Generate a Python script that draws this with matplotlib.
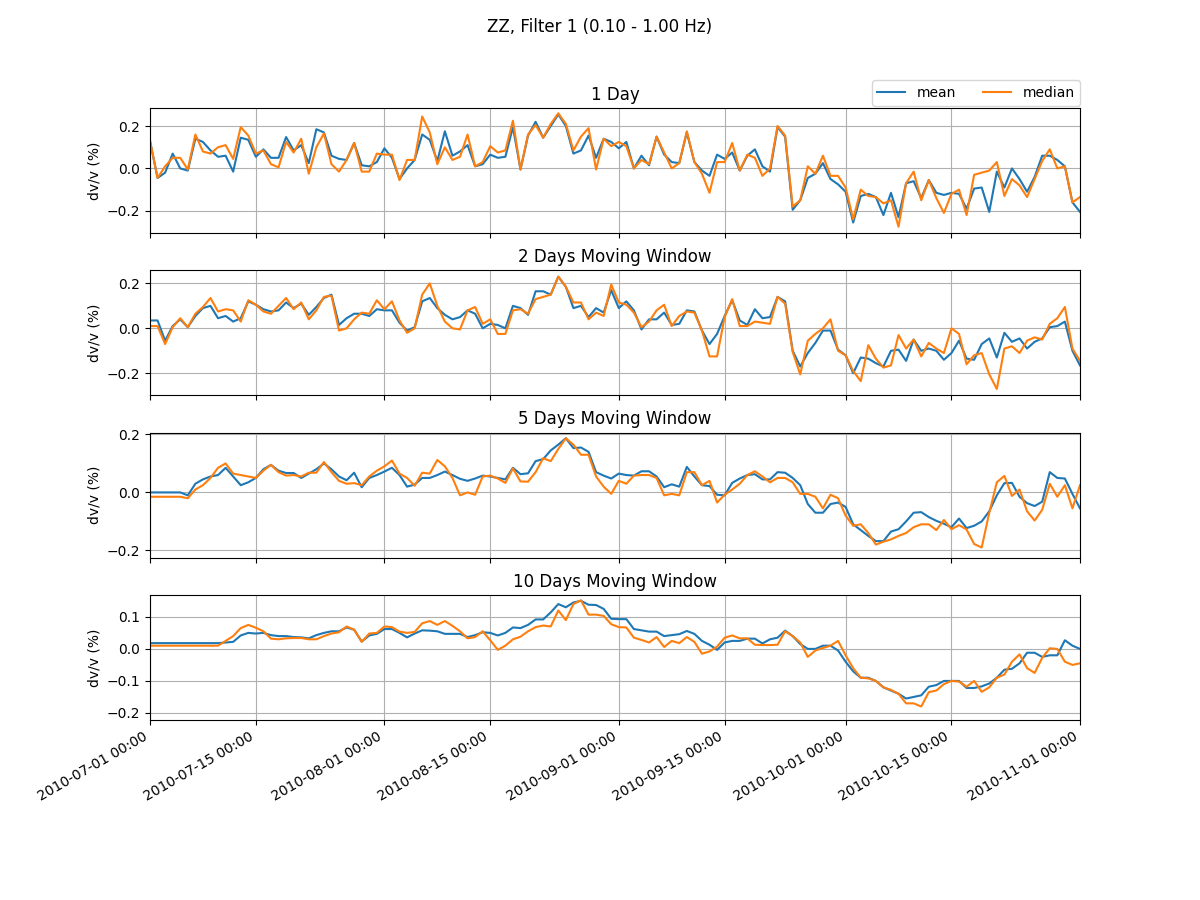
import matplotlib
matplotlib.use("Agg")
import matplotlib.pyplot as plt
import matplotlib.dates as mdates
import pandas as pd
import numpy as np

dates = pd.date_range("2010-07-01", "2010-11-01", freq="D")

titles = ["1 Day", "2 Days Moving Window", "5 Days Moving Window", "10 Days Moving Window"]

mean_1d = [0.13, -0.045, -0.02, 0.07, 0.0, -0.01, 0.14, 0.125, 0.085, 0.055,
           0.06, -0.015, 0.145, 0.135, 0.055, 0.09, 0.05, 0.05, 0.148, 0.085,
           0.11, 0.025, 0.185, 0.17, 0.06, 0.045, 0.04, 0.12, 0.015, 0.01,
           0.03, 0.095, 0.05, -0.05, 0.0, 0.04, 0.16, 0.135, 0.035, 0.175,
           0.06, 0.08, 0.11, 0.01, 0.02, 0.065, 0.05, 0.055, 0.195, -0.005,
           0.155, 0.22, 0.145, 0.2, 0.255, 0.2, 0.07, 0.085, 0.155, 0.05,
           0.14, 0.125, 0.095, 0.125, 0.0, 0.06, 0.015, 0.15, 0.065, 0.03,
           0.025, 0.17, 0.03, -0.01, -0.035, 0.065, 0.045, 0.075, -0.01, 0.06,
           0.09, 0.01, -0.015, 0.195, 0.15, -0.195, -0.15, -0.045, -0.025, 0.025,
           -0.05, -0.075, -0.11, -0.255, -0.13, -0.12, -0.135, -0.22, -0.115, -0.23,
           -0.07, -0.06, -0.14, -0.055, -0.115, -0.125, -0.115, -0.12, -0.19, -0.095,
           -0.09, -0.205, -0.015, -0.09, 0.0, -0.05, -0.11, -0.04, 0.06, 0.06,
           0.04, 0.01, -0.16, -0.205]
median_1d = [0.13, -0.045, 0.01, 0.05, 0.05, -0.005, 0.16, 0.08, 0.07, 0.1,
             0.11, 0.045, 0.195, 0.155, 0.07, 0.085, 0.02, 0.005, 0.125, 0.075,
             0.14, -0.025, 0.1, 0.165, 0.02, -0.015, 0.04, 0.12, -0.015, -0.015,
             0.07, 0.065, 0.065, -0.055, 0.04, 0.04, 0.245, 0.17, 0.02, 0.1,
             0.04, 0.055, 0.16, 0.01, 0.03, 0.105, 0.075, 0.085, 0.225, -0.005,
             0.16, 0.205, 0.145, 0.21, 0.26, 0.21, 0.085, 0.15, 0.19, -0.005,
             0.14, 0.105, 0.125, 0.105, 0.0, 0.04, 0.02, 0.15, 0.075, 0.0,
             0.025, 0.175, 0.03, -0.025, -0.115, 0.03, 0.03, 0.12, -0.01, 0.065,
             0.05, -0.035, 0.0, 0.2, 0.155, -0.18, -0.15, 0.01, -0.025, 0.06,
             -0.035, -0.035, -0.09, -0.24, -0.1, -0.13, -0.135, -0.165, -0.15, -0.275,
             -0.07, -0.015, -0.15, -0.055, -0.14, -0.21, -0.12, -0.1, -0.22, -0.03,
             -0.02, -0.01, 0.03, -0.13, -0.05, -0.08, -0.135, -0.05, 0.035, 0.09,
             0.0, 0.01, -0.16, -0.135]

mean_2d = [0.035, 0.035, -0.055, 0.01, 0.04, 0.005, 0.055, 0.09, 0.1, 0.045,
           0.055, 0.03, 0.045, 0.12, 0.105, 0.085, 0.075, 0.08, 0.115, 0.09,
           0.11, 0.06, 0.095, 0.135, 0.15, 0.015, 0.045, 0.065, 0.065, 0.055,
           0.085, 0.08, 0.08, 0.025, -0.01, 0.005, 0.12, 0.135, 0.09, 0.06,
           0.04, 0.05, 0.08, 0.065, 0.0, 0.02, 0.015, 0.0, 0.1, 0.09,
           0.06, 0.165, 0.165, 0.15, 0.23, 0.185, 0.09, 0.1, 0.05, 0.09,
           0.07, 0.17, 0.09, 0.12, 0.08, -0.005, 0.04, 0.04, 0.07, 0.015,
           0.02, 0.08, 0.075, -0.01, -0.07, -0.025, 0.055, 0.125, 0.035, 0.015,
           0.085, 0.045, 0.05, 0.14, 0.12, -0.1, -0.17, -0.11, -0.065, -0.01,
           -0.01, -0.095, -0.12, -0.2, -0.13, -0.135, -0.155, -0.17, -0.1, -0.095,
           -0.145, -0.05, -0.1, -0.09, -0.1, -0.14, -0.11, -0.055, -0.135, -0.14,
           -0.07, -0.045, -0.13, -0.02, -0.06, -0.045, -0.09, -0.06, -0.045, 0.005,
           0.01, 0.03, -0.1, -0.165]
median_2d = [0.01, 0.01, -0.07, 0.005, 0.045, 0.005, 0.065, 0.095, 0.135, 0.075,
             0.085, 0.08, 0.03, 0.125, 0.105, 0.075, 0.065, 0.1, 0.135, 0.085,
             0.115, 0.04, 0.08, 0.14, 0.145, -0.01, 0.0, 0.04, 0.07, 0.065,
             0.125, 0.085, 0.12, 0.035, -0.02, 0.0, 0.15, 0.2, 0.1, 0.03,
             0.0, -0.005, 0.08, 0.095, 0.02, 0.04, -0.025, -0.025, 0.08, 0.085,
             0.065, 0.13, 0.14, 0.15, 0.23, 0.185, 0.115, 0.115, 0.04, 0.07,
             0.055, 0.195, 0.115, 0.105, 0.07, 0.005, 0.03, 0.08, 0.105, 0.01,
             0.055, 0.075, 0.07, -0.01, -0.125, -0.125, 0.05, 0.13, 0.01, 0.01,
             0.03, 0.025, 0.02, 0.14, 0.11, -0.105, -0.205, -0.055, -0.025, 0.0,
             0.04, -0.1, -0.12, -0.19, -0.235, -0.075, -0.135, -0.175, -0.165, -0.03,
             -0.09, -0.05, -0.125, -0.065, -0.09, -0.11, 0.0, -0.025, -0.16, -0.12,
             -0.11, -0.205, -0.27, -0.09, -0.08, -0.11, -0.055, -0.04, -0.05, 0.02,
             0.045, 0.095, -0.09, -0.145]

mean_5d = [0.0, 0.0, 0.0, 0.0, 0.0, -0.01, 0.03, 0.045, 0.055, 0.06,
           0.085, 0.055, 0.025, 0.035, 0.05, 0.08, 0.095, 0.075, 0.067, 0.067,
           0.05, 0.065, 0.08, 0.1, 0.08, 0.055, 0.042, 0.068, 0.018, 0.05,
           0.06, 0.072, 0.085, 0.06, 0.02, 0.027, 0.05, 0.05, 0.06, 0.072,
           0.06, 0.047, 0.04, 0.048, 0.058, 0.055, 0.05, 0.045, 0.085, 0.063,
           0.066, 0.108, 0.115, 0.145, 0.165, 0.187, 0.153, 0.155, 0.14, 0.07,
           0.058, 0.048, 0.065, 0.06, 0.058, 0.073, 0.073, 0.055, 0.018, 0.028,
           0.02, 0.088, 0.055, 0.025, 0.022, -0.008, -0.01, 0.033, 0.048, 0.06,
           0.063, 0.045, 0.045, 0.07, 0.068, 0.05, 0.025, -0.04, -0.07, -0.07,
           -0.04, -0.035, -0.05, -0.11, -0.13, -0.15, -0.168, -0.168, -0.135, -0.127,
           -0.1, -0.07, -0.068, -0.085, -0.098, -0.108, -0.12, -0.09, -0.123, -0.115,
           -0.1, -0.065, -0.01, 0.032, 0.033, -0.015, -0.037, -0.047, -0.032, 0.07,
           0.05, 0.048, -0.005, -0.055]
median_5d = [-0.015, -0.015, -0.015, -0.015, -0.015, -0.02, 0.01, 0.025, 0.05, 0.085,
             0.1, 0.065, 0.06, 0.055, 0.05, 0.075, 0.095, 0.07, 0.058, 0.06,
             0.055, 0.068, 0.068, 0.105, 0.07, 0.04, 0.03, 0.032, 0.025, 0.055,
             0.075, 0.09, 0.11, 0.065, 0.05, 0.023, 0.068, 0.065, 0.112, 0.09,
             0.05, -0.01, 0.0, -0.008, 0.055, 0.058, 0.048, 0.033, 0.083, 0.038,
             0.037, 0.07, 0.118, 0.108, 0.15, 0.187, 0.165, 0.13, 0.13, 0.055,
             0.02, -0.005, 0.04, 0.03, 0.058, 0.06, 0.06, 0.05, -0.01, -0.005,
             -0.01, 0.07, 0.07, 0.025, 0.04, -0.035, -0.008, 0.01, 0.03, 0.06,
             0.073, 0.055, 0.035, 0.05, 0.05, 0.035, -0.005, -0.005, -0.015, -0.055,
             -0.008, -0.02, -0.08, -0.115, -0.11, -0.14, -0.18, -0.17, -0.162, -0.15,
             -0.14, -0.12, -0.11, -0.11, -0.13, -0.095, -0.127, -0.113, -0.128, -0.178,
             -0.19, -0.07, 0.035, 0.057, -0.012, 0.01, -0.065, -0.097, -0.06, 0.03,
             -0.015, 0.025, -0.055, 0.025]

mean_10d = [0.018, 0.018, 0.018, 0.018, 0.018, 0.018, 0.018, 0.018, 0.018, 0.018,
            0.02, 0.022, 0.042, 0.05, 0.048, 0.05, 0.043, 0.04, 0.04, 0.037,
            0.036, 0.033, 0.043, 0.05, 0.055, 0.055, 0.067, 0.06, 0.023, 0.042,
            0.047, 0.062, 0.062, 0.05, 0.036, 0.048, 0.058, 0.057, 0.055, 0.047,
            0.047, 0.047, 0.037, 0.043, 0.052, 0.05, 0.042, 0.05, 0.067, 0.065,
            0.075, 0.092, 0.092, 0.114, 0.14, 0.13, 0.145, 0.15, 0.138, 0.137,
            0.125, 0.094, 0.093, 0.093, 0.062, 0.058, 0.054, 0.054, 0.04, 0.043,
            0.046, 0.056, 0.047, 0.025, 0.013, -0.003, 0.02, 0.025, 0.025, 0.032,
            0.032, 0.017, 0.03, 0.035, 0.057, 0.04, 0.015, 0.0, 0.0, 0.01,
            0.01, -0.005, -0.04, -0.07, -0.09, -0.09, -0.1, -0.12, -0.13, -0.14,
            -0.155, -0.15, -0.145, -0.118, -0.113, -0.1, -0.1, -0.1, -0.122, -0.122,
            -0.117, -0.108, -0.09, -0.065, -0.062, -0.045, -0.012, -0.012, -0.025, -0.02,
            -0.02, 0.027, 0.01, 0.0]
median_10d = [0.01, 0.01, 0.01, 0.01, 0.01, 0.01, 0.01, 0.01, 0.01, 0.01,
              0.025, 0.04, 0.065, 0.075, 0.066, 0.055, 0.032, 0.03, 0.033, 0.034,
              0.034, 0.03, 0.03, 0.04, 0.048, 0.052, 0.07, 0.06, 0.022, 0.048,
              0.05, 0.07, 0.068, 0.054, 0.05, 0.053, 0.08, 0.087, 0.075, 0.087,
              0.072, 0.055, 0.033, 0.037, 0.055, 0.027, -0.003, 0.01, 0.03, 0.038,
              0.055, 0.068, 0.073, 0.07, 0.12, 0.09, 0.14, 0.152, 0.107, 0.107,
              0.103, 0.077, 0.068, 0.067, 0.035, 0.028, 0.02, 0.037, 0.006, 0.025,
              0.018, 0.037, 0.022, -0.015, -0.008, 0.007, 0.035, 0.042, 0.033, 0.033,
              0.013, 0.012, 0.012, 0.013, 0.055, 0.04, 0.02, -0.025, -0.005, 0.003,
              0.01, 0.025, -0.02, -0.06, -0.09, -0.092, -0.1, -0.12, -0.128, -0.14,
              -0.17, -0.17, -0.18, -0.135, -0.13, -0.11, -0.1, -0.102, -0.118, -0.1,
              -0.134, -0.12, -0.09, -0.08, -0.04, -0.017, -0.06, -0.075, -0.028, 0.002,
              0.0, -0.04, -0.05, -0.045]

means = [mean_1d, mean_2d, mean_5d, mean_10d]
medians = [median_1d, median_2d, median_5d, median_10d]
ylims = [(-0.304, 0.285), (-0.298, 0.258), (-0.225, 0.206), (-0.222, 0.168)]

fig, axes = plt.subplots(4, 1, sharex=True, figsize=(12, 9), dpi=100)
for i, ax in enumerate(axes):
    ax.plot(dates, means[i], color="#1f77b4", label="mean")
    ax.plot(dates, medians[i], color="#ff7f0e", label="median")
    ax.set_title(titles[i])
    ax.set_ylabel("dv/v (%)")
    ax.set_ylim(*ylims[i])
    ax.grid(True)
    if i == 0:
        ax.legend(loc="lower right", bbox_to_anchor=(1.0, 1.02), ncol=2, borderaxespad=0)

axes[-1].set_xlim(dates[0], dates[-1])
axes[-1].xaxis.set_major_locator(mdates.DayLocator(bymonthday=[1, 15]))
axes[-1].xaxis.set_major_formatter(mdates.DateFormatter("%Y-%m-%d %H:%M"))
fig.suptitle("ZZ, Filter 1 (0.10 - 1.00 Hz)")
fig.autofmt_xdate()
fig.subplots_adjust(hspace=0.3)
fig.savefig("out.png", dpi=100)
